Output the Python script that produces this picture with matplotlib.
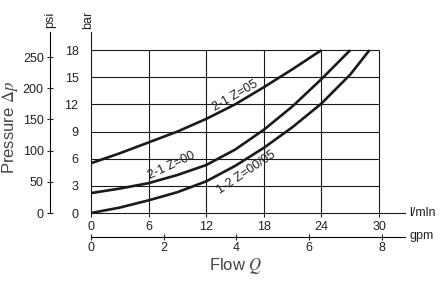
import matplotlib
matplotlib.use("Agg")
import matplotlib.pyplot as plt

plt.rcParams['font.family'] = ['Liberation Sans', 'DejaVu Sans']
plt.rcParams['mathtext.fontset'] = 'stix'

# flow in l/min, pressure drop in bar
flow_05 = [0, 3, 6, 9, 12, 15, 18, 21, 24]
dp_05 = [5.5, 6.6, 7.8, 9.0, 10.4, 12.0, 13.9, 15.9, 18.0]

flow_00 = [0, 3, 6, 9, 12, 15, 18, 21, 24, 27]
dp_00 = [2.2, 2.7, 3.3, 4.2, 5.3, 7.0, 9.2, 11.8, 14.8, 18.0]

flow_0005 = [0, 3, 6, 9, 12, 15, 18, 21, 24, 27, 29]
dp_0005 = [0.0, 0.6, 1.4, 2.3, 3.5, 5.2, 7.2, 9.5, 12.1, 15.3, 18.0]

curve_labels = ["2-1 Z=05", "2-1 Z=00", "1-2 Z=00/05"]

lpm_ticks = [0, 6, 12, 18, 24, 30]
bar_ticks = [0, 3, 6, 9, 12, 15, 18]
psi_ticks = [0, 50, 100, 150, 200, 250]
gpm_ticks = [0, 2, 4, 6, 8]

BAR_TO_PSI = 14.5038
LPM_PER_GPM = 3.785
X_MAX = 32.7
Y_MAX = 20.0

W, H = 446, 282
LINE = '#1a1a1a'
TEXT = '#222222'


def px(x, y):
    return x / W, 1 - y / H


fig = plt.figure(figsize=(W / 100, H / 100), dpi=100)
ax = fig.add_axes((91 / W, 1 - 213 / H, (405 - 91) / W, (213 - 32) / H))

# grid limited to the 0..30 / 0..18 box
ax.hlines(bar_ticks[1:], 0, lpm_ticks[-1], color=LINE, lw=0.8, zorder=1)
ax.vlines(lpm_ticks[1:], 0, bar_ticks[-1], color=LINE, lw=0.8, zorder=1)

for q, p in [(flow_05, dp_05), (flow_00, dp_00), (flow_0005, dp_0005)]:
    ax.plot(q, p, color=LINE, lw=1.9, solid_capstyle='butt', zorder=3)

ax.set_xlim(0, X_MAX)
ax.set_ylim(0, Y_MAX)
ax.set_xticks(lpm_ticks)
ax.set_yticks(bar_ticks)
for s in ['top', 'right']:
    ax.spines[s].set_visible(False)
for s in ['left', 'bottom']:
    ax.spines[s].set_linewidth(0.8)
    ax.spines[s].set_color(LINE)
ax.tick_params(axis='x', direction='out', length=3, width=0.8, pad=3, labelsize=9, colors=TEXT)
ax.tick_params(axis='y', length=0, pad=9, labelsize=9, colors=TEXT)

# psi axis
ax_psi = ax.twinx()
ax_psi.set_ylim(0, Y_MAX * BAR_TO_PSI)
ax_psi.set_yticks(psi_ticks)
ax_psi.yaxis.set_ticks_position('left')
ax_psi.yaxis.set_label_position('left')
ax_psi.spines['left'].set_position(('outward', 41 * 0.72))
ax_psi.spines['left'].set_linewidth(0.8)
for s in ['top', 'right', 'bottom']:
    ax_psi.spines[s].set_visible(False)
ax_psi.tick_params(axis='y', direction='inout', length=5, width=0.8, pad=2, labelsize=9, colors=TEXT)

# gpm axis
ax_gpm = ax.twiny()
ax_gpm.set_xlim(0, X_MAX / LPM_PER_GPM)
ax_gpm.set_xticks(gpm_ticks)
ax_gpm.xaxis.set_ticks_position('bottom')
ax_gpm.spines['bottom'].set_position(('outward', 24 * 0.72))
ax_gpm.spines['bottom'].set_linewidth(0.8)
for s in ['top', 'right', 'left']:
    ax_gpm.spines[s].set_visible(False)
ax_gpm.tick_params(axis='x', direction='inout', length=5, width=0.8, pad=1, labelsize=9, colors=TEXT)

# curve labels
ax.text(*px(235, 96), curve_labels[0], transform=fig.transFigure, rotation=30,
        ha='center', va='center', fontsize=9, color=TEXT, zorder=4)
ax.text(*px(172, 166), curve_labels[1], transform=fig.transFigure, rotation=25,
        ha='center', va='center', fontsize=9, color=TEXT, zorder=4)
ax.text(*px(246, 173), curve_labels[2], transform=fig.transFigure, rotation=34,
        ha='center', va='center', fontsize=9, color=TEXT, zorder=4)

# units and axis titles
fig.text(*px(50, 20), "psi", rotation=90, ha='center', va='center', fontsize=9, color=TEXT)
fig.text(*px(88, 20), "bar", rotation=90, ha='center', va='center', fontsize=9, color=TEXT)
fig.text(*px(409, 213), "l/mln", ha='left', va='center', fontsize=9, color=TEXT)
fig.text(*px(410, 236), "gpm", ha='left', va='center', fontsize=9, color=TEXT)
fig.text(*px(236, 266), r"Flow $Q$", ha='center', va='center', fontsize=12, color='#444444')
fig.text(*px(10, 128), r"Pressure $\mathit{\Delta}p$", rotation=90, ha='center', va='center',
         fontsize=12, color='#444444')

fig.savefig("out.png", dpi=100)
